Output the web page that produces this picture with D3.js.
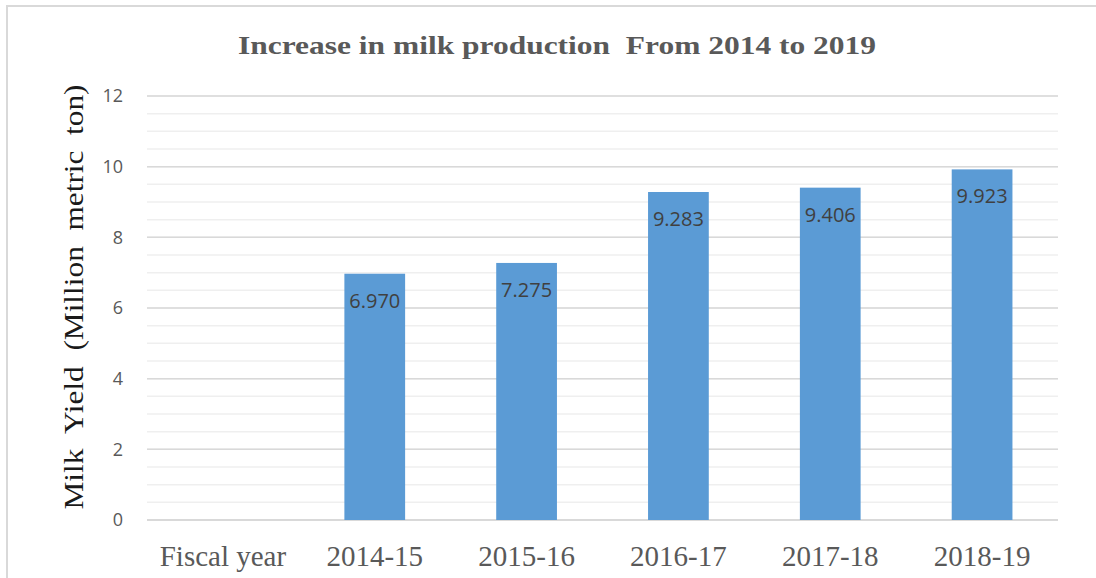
<!DOCTYPE html>
<html>
<head>
<meta charset="utf-8">
<script src="https://cdn.jsdelivr.net/npm/d3@7"></script>
<style>
  body { margin: 0; background: #fff; }
  svg { display: block; }
</style>
</head>
<body>
<svg id="chart" width="1096" height="578"></svg>
<script>
// data
const categories = ["Fiscal year", "2014-15", "2015-16", "2016-17", "2017-18", "2018-19"];
const milkYield = [null, 6.970, 7.275, 9.283, 9.406, 9.923];
const yTicks = [0, 2, 4, 6, 8, 10, 12];
const minorTicks = d3.range(0, 12.01, 0.5);

const width = 1096, height = 578;
const margin = { top: 96, right: 38, bottom: 58, left: 147 };

const svg = d3.select("#chart");

// outer frame
svg.append("rect")
  .attr("x", 7).attr("y", 6)
  .attr("width", width - 6).attr("height", height - 4)
  .attr("fill", "none")
  .attr("stroke", "#d9d9d9")
  .attr("stroke-width", 2);

const x = d3.scaleBand()
  .domain(categories)
  .range([margin.left, width - margin.right])
  .paddingInner(0.6)
  .paddingOuter(0.3);

const y = d3.scaleLinear()
  .domain([0, 12])
  .range([height - margin.bottom, margin.top]);

// minor grid
svg.append("g")
  .selectAll("line")
  .data(minorTicks)
  .join("line")
    .attr("x1", margin.left).attr("x2", width - margin.right)
    .attr("y1", d => y(d)).attr("y2", d => y(d))
    .attr("stroke", "#efefef")
    .attr("stroke-width", 1.5);

// major grid
svg.append("g")
  .selectAll("line")
  .data(yTicks)
  .join("line")
    .attr("x1", margin.left).attr("x2", width - margin.right)
    .attr("y1", d => y(d)).attr("y2", d => y(d))
    .attr("stroke", d => d === 0 ? "#d0d0d0" : "#d9d9d9")
    .attr("stroke-width", 1.5);

// y axis labels
const yAxis = svg.append("g")
  .attr("transform", `translate(${margin.left},0)`)
  .call(d3.axisLeft(y).tickValues(yTicks).tickSize(0).tickPadding(24));
yAxis.select(".domain").remove();
yAxis.selectAll("text")
  .attr("font-family", "'Open Sans', 'Liberation Sans', sans-serif")
  .attr("font-size", 18)
  .attr("fill", "#595959");

// bars
const bars = categories.map((c, i) => ({ cat: c, v: milkYield[i] })).filter(d => d.v != null);

svg.append("g")
  .selectAll("rect")
  .data(bars)
  .join("rect")
    .attr("x", d => x(d.cat))
    .attr("y", d => y(d.v))
    .attr("width", x.bandwidth())
    .attr("height", d => y(0) - y(d.v))
    .attr("fill", "#5b9bd5");

// value labels inside top of bars
svg.append("g")
  .selectAll("text")
  .data(bars)
  .join("text")
    .attr("x", d => x(d.cat) + x.bandwidth() / 2)
    .attr("y", d => y(d.v) + 34)
    .attr("text-anchor", "middle")
    .attr("font-family", "'Open Sans', 'Liberation Sans', sans-serif")
    .attr("font-size", 20)
    .attr("fill", "#404040")
    .text(d => d.v.toFixed(3));

// x axis labels
const xAxis = svg.append("g")
  .attr("transform", `translate(0,${y(0)})`)
  .call(d3.axisBottom(x).tickSize(0).tickPadding(0));
xAxis.select(".domain").remove();
xAxis.selectAll("text")
  .attr("dy", null)
  .attr("y", 46)
  .attr("font-family", "'Liberation Serif', 'Times New Roman', serif")
  .attr("font-size", 29)
  .attr("fill", "#595959");

// y title
svg.append("text")
  .attr("transform", `translate(83,297) rotate(-90)`)
  .attr("text-anchor", "middle")
  .attr("font-family", "'Liberation Serif', 'Times New Roman', serif")
  .attr("font-size", 27)
  .attr("fill", "#1a1a1a")
  .attr("textLength", 425)
  .attr("lengthAdjust", "spacingAndGlyphs")
  .style("white-space", "pre")
  .text("Milk  Yield  (Million  metric  ton)");

// title
svg.append("text")
  .attr("x", 557)
  .attr("y", 54)
  .attr("text-anchor", "middle")
  .attr("font-family", "'Liberation Serif', 'Times New Roman', serif")
  .attr("font-weight", "bold")
  .attr("font-size", 26)
  .attr("fill", "#595959")
  .attr("textLength", 638)
  .attr("lengthAdjust", "spacingAndGlyphs")
  .style("white-space", "pre")
  .text("Increase in milk production  From 2014 to 2019");
</script>
</body>
</html>
